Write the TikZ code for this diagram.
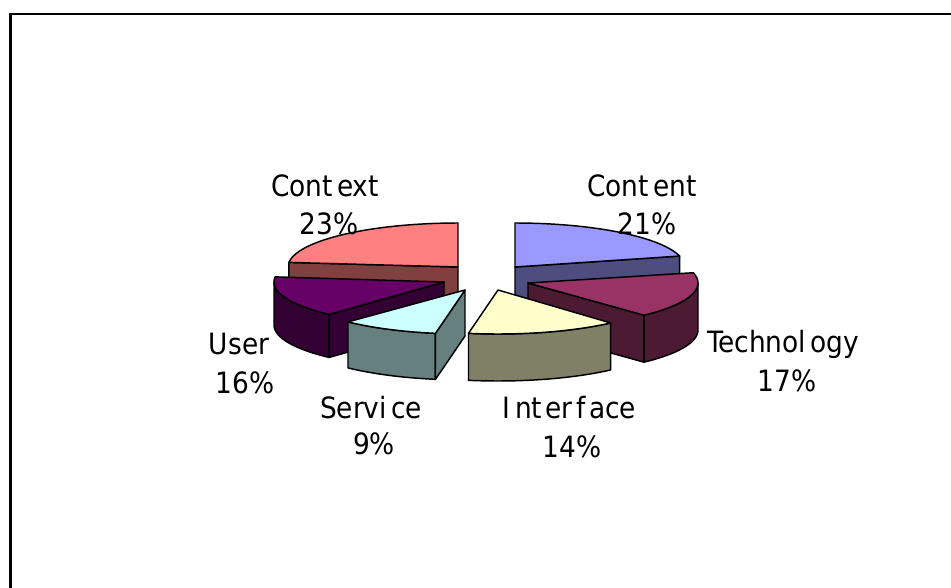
\documentclass[tikz,border=0pt]{standalone}
\usepackage{fontspec}
\setmainfont{DejaVu Sans Condensed}

% slice colours: top faces and their darker sides
\definecolor{ctxTop}{HTML}{FF8080}\definecolor{ctxSide}{HTML}{804040}
\definecolor{cntTop}{HTML}{9999FF}\definecolor{cntSide}{HTML}{4D4D80}
\definecolor{tecTop}{HTML}{993366}\definecolor{tecSide}{HTML}{4D1A33}
\definecolor{ifcTop}{HTML}{FFFFCC}\definecolor{ifcSide}{HTML}{808066}
\definecolor{srvTop}{HTML}{CCFFFF}\definecolor{srvSide}{HTML}{668080}
\definecolor{usrTop}{HTML}{660066}\definecolor{usrSide}{HTML}{330033}

% ellipse radii of the tilted pie (pixels)
\def\RX{170}
\def\RY{44}

% top face: centre x, centre y, start angle, end angle, colour
\newcommand\pieTop[5]{\filldraw[edge, fill=#5] (#1,#2) -- plot[domain=#3:#4, samples=40] ({#1+\RX*sin(\x)},{#2-\RY*cos(\x)}) -- cycle;}
% radial cut face: centre x, centre y, angle, thickness, colour
\newcommand\pieCut[5]{\filldraw[edge, fill=#5] (#1,#2) -- ({#1+\RX*sin(#3)},{#2-\RY*cos(#3)}) -- ({#1+\RX*sin(#3)},{#2+#4-\RY*cos(#3)}) -- ({#1},{#2+#4}) -- cycle;}
% outer rim: centre x, centre y, from angle, to angle, thickness, colour
\newcommand\pieRim[6]{\filldraw[edge, fill=#6] plot[domain=#3:#4, samples=30] ({#1+\RX*sin(\x)},{#2-\RY*cos(\x)}) -- plot[domain=#4:#3, samples=30] ({#1+\RX*sin(\x)},{#2+#5-\RY*cos(\x)}) -- cycle;}

\tikzset{
  edge/.style={draw=black, line width=1.1pt, line join=round},
  lbl/.style={anchor=base, inner sep=0pt, font=\fontsize{22}{26}\selectfont},
  frame/.style={draw=black, line width=1.8pt, line join=miter},
}

\begin{document}
\begin{tikzpicture}[x=0.75pt, y=-0.75pt]
\useasboundingbox (0,0) rectangle (951,588);
\fill[white] (0,0) rectangle (951,588);

% chart frame
\coordinate (frameBL) at (10.5,590);
\coordinate (frameTL) at (10.5,13.8);
\coordinate (frameTR) at (953,13.8);
\draw[frame] (frameBL) -- (frameTL) -- (frameTR);

% Context (back left)
\pieCut{458}{267}{276}{45}{ctxSide}
\pieTop{458}{267}{276}{360}{ctxTop}

% Content (back right)
\pieCut{515}{267}{75.6}{45}{cntSide}
\pieTop{515}{267}{0}{75.6}{cntTop}

% User
\pieRim{444}{282}{222.5}{270}{43}{usrSide}
\pieCut{444}{282}{222.5}{43}{usrSide}
\pieTop{444}{282}{222.5}{276.7}{usrTop}

% Technology
\pieRim{528}{283}{90}{137}{47}{tecSide}
\pieCut{528}{283}{137}{47}{tecSide}
\pieTop{528}{283}{76.5}{137}{tecTop}

% Interface
\pieRim{498}{290}{138.5}{190}{47}{ifcSide}
\pieTop{498}{290}{138.5}{190}{ifcTop}

% Service
\pieRim{465}{290}{190}{223.5}{46}{srvSide}
\pieCut{465}{290}{190}{46}{srvSide}
\pieTop{465}{290}{190}{223.5}{srvTop}

% labels
\node[lbl] (ctxName) at (325,197) {Cont\kern.15em ext};
\node[lbl] (ctxPct)  at (329,235) {23\%};
\node[lbl] (cntName) at (642,197) {Cont\kern.15em ent};
\node[lbl] (cntPct)  at (647,235) {21\%};
\node[lbl] (tecName) at (783,353) {Technol\kern.15em ogy};
\node[lbl] (tecPct)  at (787,392) {17\%};
\node[lbl] (usrName) at (239,355) {User};
\node[lbl] (usrPct)  at (245,393) {16\%};
\node[lbl] (srvName) at (371,418) {Servi\kern.15em ce};
\node[lbl] (srvPct)  at (374,455) {9\%};
\node[lbl] (ifcName) at (569,418) {I\kern.18em nt\kern.12em er\kern.12em f\kern.12em ace};
\node[lbl] (ifcPct)  at (572,457) {14\%};
\end{tikzpicture}
\end{document}
